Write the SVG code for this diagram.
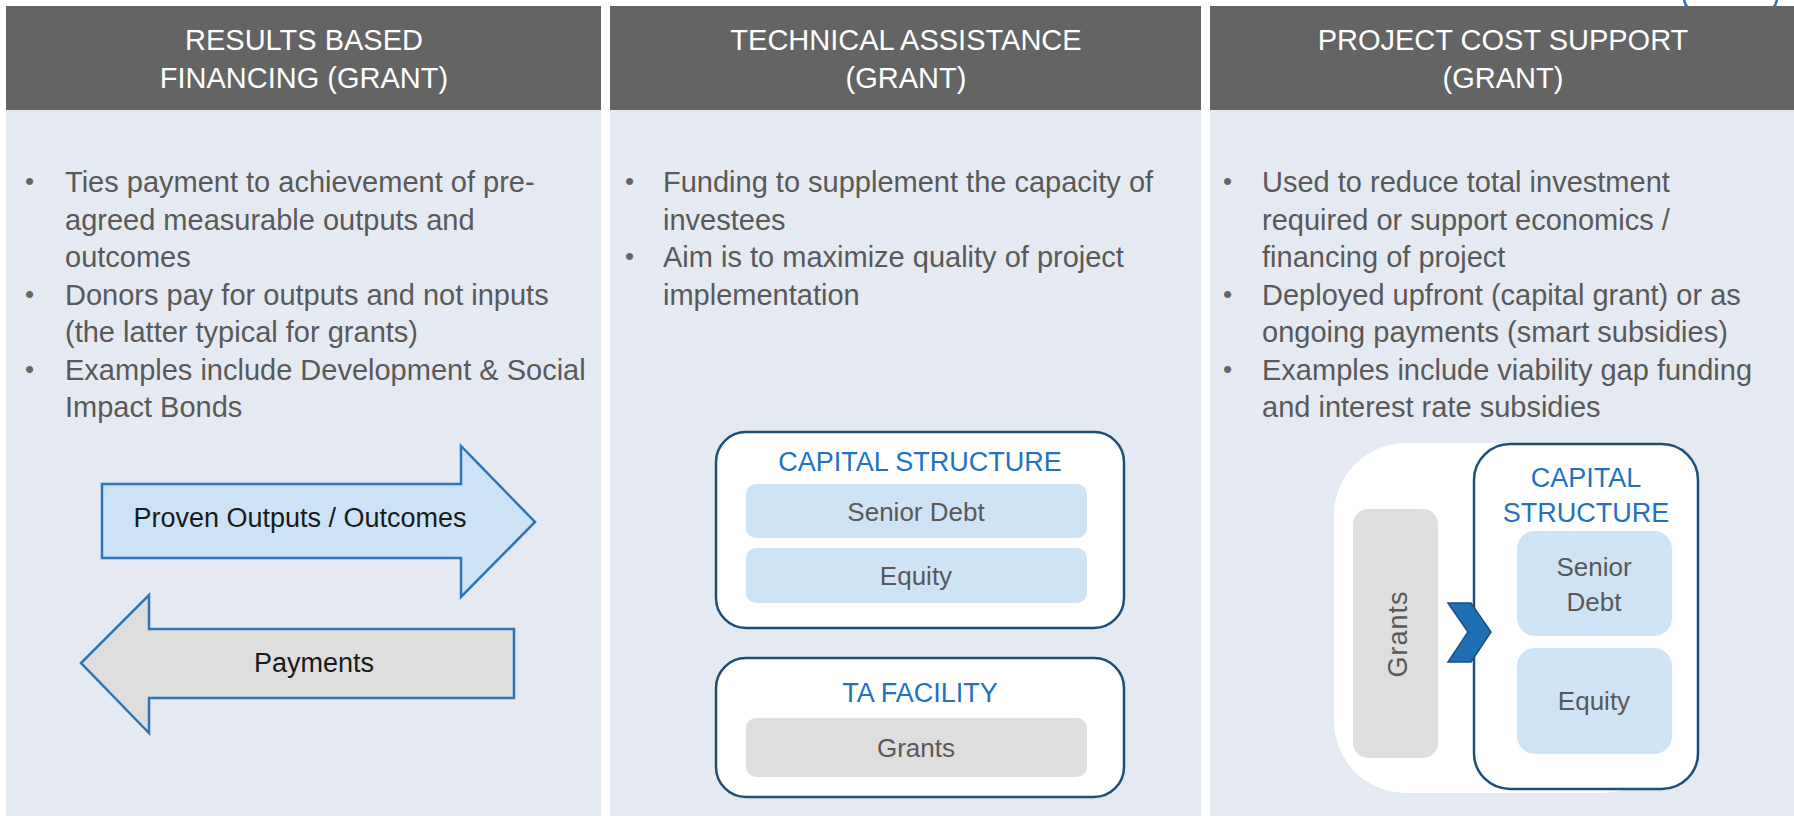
<svg xmlns="http://www.w3.org/2000/svg" width="1794" height="816" viewBox="0 0 1794 816">
<style>
text{font-family:"Liberation Sans",Arial,sans-serif}
.hdr{fill:#646464}
.body{fill:#E5EAF2}
.ht{fill:#FFFFFF;font-size:29px;text-anchor:middle}
.bt{fill:#595959;font-size:29px}
.bul{fill:#666666;font-size:26px}
.box{fill:#FFFFFF;stroke:#1F4E79;stroke-width:2.5}
.blue{fill:#CFE3F6}
.gray{fill:#DEDEDE}
.ttl{fill:#2272BF;font-size:27px;text-anchor:middle}
.lbl{fill:#595959;font-size:26px;text-anchor:middle}
.arr{stroke:#2E75B6;stroke-width:2.5}
.at{fill:#1a1a1a;font-size:27px;text-anchor:middle}
</style>
<rect width="1794" height="816" fill="#FFFFFF"/>
<rect x="1684" y="-40" width="93" height="52" rx="14" fill="none" stroke="#2E75B6" stroke-width="2.5"/>

<g id="col1">
<rect class="body" x="6" y="110" width="595" height="706"/>
<rect class="hdr" x="6" y="6" width="595" height="104"/>
<text class="ht" x="304" y="50">RESULTS BASED</text>
<text class="ht" x="304" y="88">FINANCING (GRANT)</text>
<text class="bul" x="25" y="190">•</text>
<text class="bt" x="65" y="192">Ties payment to achievement of pre-</text>
<text class="bt" x="65" y="229.5">agreed measurable outputs and</text>
<text class="bt" x="65" y="267">outcomes</text>
<text class="bul" x="25" y="302.5">•</text>
<text class="bt" x="65" y="304.5">Donors pay for outputs and not inputs</text>
<text class="bt" x="65" y="342">(the latter typical for grants)</text>
<text class="bul" x="25" y="377.5">•</text>
<text class="bt" x="65" y="379.5">Examples include Development &amp; Social</text>
<text class="bt" x="65" y="417">Impact Bonds</text>
</g>

<g id="col2">
<rect class="body" x="610" y="110" width="591" height="706"/>
<rect class="hdr" x="610" y="6" width="591" height="104"/>
<text class="ht" x="906" y="50">TECHNICAL ASSISTANCE</text>
<text class="ht" x="906" y="88">(GRANT)</text>
<text class="bul" x="625" y="190">•</text>
<text class="bt" x="663" y="192">Funding to supplement the capacity of</text>
<text class="bt" x="663" y="229.5">investees</text>
<text class="bul" x="625" y="265">•</text>
<text class="bt" x="663" y="267">Aim is to maximize quality of project</text>
<text class="bt" x="663" y="304.5">implementation</text>
</g>

<g id="col3">
<rect class="body" x="1210" y="110" width="584" height="706"/>
<rect class="hdr" x="1210" y="6" width="584" height="104"/>
<text class="ht" x="1503" y="50">PROJECT COST SUPPORT</text>
<text class="ht" x="1503" y="88">(GRANT)</text>
<text class="bul" x="1223" y="190">•</text>
<text class="bt" x="1262" y="192">Used to reduce total investment</text>
<text class="bt" x="1262" y="229.5">required or support economics /</text>
<text class="bt" x="1262" y="267">financing of project</text>
<text class="bul" x="1223" y="302.5">•</text>
<text class="bt" x="1262" y="304.5">Deployed upfront (capital grant) or as</text>
<text class="bt" x="1262" y="342">ongoing payments (smart subsidies)</text>
<text class="bul" x="1223" y="377.5">•</text>
<text class="bt" x="1262" y="379.5">Examples include viability gap funding</text>
<text class="bt" x="1262" y="417">and interest rate subsidies</text>
</g>

<g id="arrow-outputs">
<path class="arr" fill="#CCE3F7" d="M102,484 H461 V446 L535,522 L461,597 V558 H102 Z"/>
<text class="at" x="300" y="527">Proven Outputs / Outcomes</text>
</g>
<g id="arrow-payments">
<path class="arr" fill="#DEDEDE" d="M514,629 H149 V595 L81,663 L149,733 V698 H514 Z"/>
<text class="at" x="314" y="672">Payments</text>
</g>

<g id="ta-capital-structure">
<rect class="box" x="716" y="432" width="408" height="196" rx="30"/>
<text class="ttl" x="920" y="471">CAPITAL STRUCTURE</text>
<rect class="blue" x="746" y="484" width="341" height="54" rx="10"/>
<text class="lbl" x="916" y="521">Senior Debt</text>
<rect class="blue" x="746" y="548" width="341" height="55" rx="10"/>
<text class="lbl" x="916" y="585">Equity</text>
</g>

<g id="ta-facility">
<rect class="box" x="716" y="658" width="408" height="139" rx="30"/>
<text class="ttl" x="920" y="702">TA FACILITY</text>
<rect class="gray" x="746" y="718" width="341" height="59" rx="10"/>
<text class="lbl" x="916" y="757">Grants</text>
</g>

<g id="pcs-group">
<rect x="1334" y="443" width="340" height="350" rx="72" fill="#FFFFFF"/>
</g>

<g id="pcs-grants">
<rect class="gray" x="1353" y="509" width="85" height="249" rx="15"/>
<text class="lbl" x="0" y="0" transform="translate(1407,634) rotate(-90)" style="font-size:27px;letter-spacing:1px">Grants</text>
</g>

<g id="pcs-capital-structure">
<rect class="box" x="1474" y="444" width="224" height="345" rx="36"/>
<text class="ttl" x="1586" y="487">CAPITAL</text>
<text class="ttl" x="1586" y="522">STRUCTURE</text>
<rect class="blue" x="1517" y="531" width="155" height="105" rx="18"/>
<text class="lbl" x="1594" y="576">Senior</text>
<text class="lbl" x="1594" y="611">Debt</text>
<rect class="blue" x="1517" y="648" width="155" height="106" rx="18"/>
<text class="lbl" x="1594" y="710">Equity</text>
</g>

<g id="connectors">
<path d="M1448,603 H1471 L1491,632 L1471,662 H1448 L1468,632 Z" fill="#1F6FB5" stroke="#1F4E79" stroke-width="1.5"/>
</g>
</svg>
